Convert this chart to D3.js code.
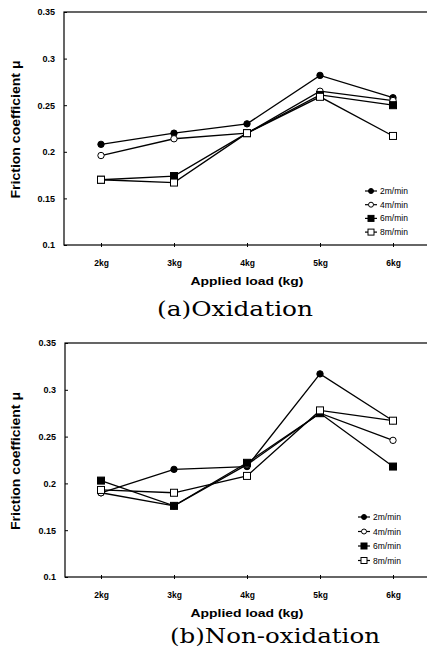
<!DOCTYPE html>
<html>
<head>
<meta charset="utf-8">
<script src="https://cdn.jsdelivr.net/npm/d3@7"></script>
<style>
  body { margin: 0; background: #fff; }
  svg { display: block; }
</style>
</head>
<body>
<svg id="chart" width="427" height="648"></svg>
<script>
// values
var loads = ["2kg", "3kg", "4kg", "5kg", "6kg"];
var yTicks = [0.1, 0.15, 0.2, 0.25, 0.3, 0.35];
var yTickLabels = ["0.1", "0.15", "0.2", "0.25", "0.3", "0.35"];
var seriesNames = ["2m/min", "4m/min", "6m/min", "8m/min"];
var markerKinds = ["circleFilled", "circleOpen", "squareFilled", "squareOpen"];

var oxid2 = [0.208, 0.220, 0.230, 0.282, 0.258];
var oxid4 = [0.196, 0.214, 0.220, 0.265, 0.255];
var oxid6 = [0.170, 0.174, 0.220, 0.261, 0.250];
var oxid8 = [0.170, 0.167, 0.220, 0.259, 0.217];

var non2 = [0.190, 0.215, 0.218, 0.317, 0.267];
var non4 = [0.190, 0.176, 0.220, 0.275, 0.246];
var non6 = [0.203, 0.176, 0.222, 0.275, 0.218];
var non8 = [0.193, 0.190, 0.208, 0.278, 0.267];

var svg = d3.select("#chart");

function drawMarker(g, kind, cx, cy) {
  if (kind.indexOf("circle") === 0) {
    g.append("circle")
      .attr("cx", cx).attr("cy", cy).attr("r", 3.2)
      .attr("fill", kind === "circleFilled" ? "#000" : "#fff")
      .attr("stroke", "#000").attr("stroke-width", 1);
  } else {
    g.append("rect")
      .attr("x", cx - 3.5).attr("y", cy - 3.5)
      .attr("width", 7).attr("height", 7)
      .attr("fill", kind === "squareFilled" ? "#000" : "#fff")
      .attr("stroke", "#000").attr("stroke-width", 1);
  }
}

/*
 * one panel: frame, axes, lines, legend, caption
 */
function drawPanel(p) {
  var g = svg.append("g");

  var x = d3.scalePoint().domain(loads).range([p.x0, p.x1]);
  var y = d3.scaleLinear().domain([0.1, 0.35]).range([p.bottom, p.top]);

  // frame (right side runs off the page)
  g.append("rect")
    .attr("x", p.left).attr("y", p.top)
    .attr("width", 440 - p.left).attr("height", p.bottom - p.top)
    .attr("fill", "none").attr("stroke", "#000").attr("stroke-width", 1.2);

  // y axis ticks + labels
  var yAxis = d3.axisLeft(y).tickValues(yTicks).tickSize(-3)
    .tickFormat(function (d, i) { return yTickLabels[i]; });
  var ya = g.append("g").attr("transform", "translate(" + p.left + ",0)").call(yAxis);
  ya.select(".domain").remove();
  ya.selectAll("line").attr("stroke", "#000");
  ya.selectAll("text")
    .attr("x", -9)
    .style("font-family", "Liberation Sans, Arial, sans-serif")
    .style("font-size", "9px").style("font-weight", "bold").attr("fill", "#000");

  // x axis ticks + labels
  var xAxis = d3.axisBottom(x).tickSize(3).tickPadding(12);
  var xa = g.append("g").attr("transform", "translate(0," + p.bottom + ")").call(xAxis);
  xa.select(".domain").remove();
  xa.selectAll("line").attr("stroke", "#000").attr("y1", -2).attr("y2", 2);
  xa.selectAll("text")
    .style("font-family", "Liberation Sans, Arial, sans-serif")
    .style("font-size", "8.5px").style("font-weight", "bold").attr("fill", "#000");

  // axis titles
  g.append("text")
    .attr("x", 247).attr("y", p.bottom + 40)
    .attr("text-anchor", "middle")
    .style("font-family", "Liberation Sans, Arial, sans-serif")
    .style("font-size", "11px").style("font-weight", "bold")
    .attr("textLength", 113).attr("lengthAdjust", "spacingAndGlyphs")
    .text("Applied load (kg)");

  var ymid = (p.top + p.bottom) / 2;
  g.append("text")
    .attr("transform", "translate(20," + (ymid + 1) + ") rotate(-90)")
    .attr("text-anchor", "middle")
    .style("font-family", "Liberation Sans, Arial, sans-serif")
    .style("font-size", "12px").style("font-weight", "bold")
    .attr("textLength", 138).attr("lengthAdjust", "spacingAndGlyphs")
    .text("Friction coefficient  \u03bc");

  // series lines and markers
  var line = d3.line()
    .x(function (d, i) { return x(loads[i]); })
    .y(function (d) { return y(d); });

  p.series.forEach(function (vals, si) {
    g.append("path")
      .datum(vals)
      .attr("d", line)
      .attr("fill", "none").attr("stroke", "#000").attr("stroke-width", 1.3);
  });
  p.series.forEach(function (vals, si) {
    vals.forEach(function (v, i) {
      drawMarker(g, markerKinds[si], x(loads[i]), y(v));
    });
  });

  // legend
  seriesNames.forEach(function (name, i) {
    var ly = p.legY + i * p.legStep;
    g.append("line")
      .attr("x1", p.legX).attr("x2", p.legX + 12)
      .attr("y1", ly).attr("y2", ly)
      .attr("stroke", "#000").attr("stroke-width", 1.2);
    var kind = markerKinds[i];
    if (kind.indexOf("circle") === 0) {
      g.append("circle").attr("cx", p.legX + 6).attr("cy", ly).attr("r", 2.5)
        .attr("fill", kind === "circleFilled" ? "#000" : "#fff").attr("stroke", "#000");
    } else {
      g.append("rect").attr("x", p.legX + 3).attr("y", ly - 3)
        .attr("width", 6).attr("height", 6)
        .attr("fill", kind === "squareFilled" ? "#000" : "#fff").attr("stroke", "#000");
    }
    g.append("text")
      .attr("x", p.legX + 15).attr("y", ly + 3)
      .style("font-family", "Liberation Sans, Arial, sans-serif")
      .style("font-size", "8.5px")
      .text(name);
  });

  // caption
  g.append("text")
    .attr("x", p.capX).attr("y", p.capY)
    .attr("text-anchor", "middle")
    .style("font-family", "DejaVu Serif, serif")
    .style("font-size", "21px")
    .attr("textLength", p.capW).attr("lengthAdjust", "spacingAndGlyphs")
    .text(p.caption);
}

drawPanel({
  left: 64, top: 12, bottom: 245, x0: 101, x1: 393,
  series: [oxid2, oxid4, oxid6, oxid8],
  legX: 365, legY: 191, legStep: 13.7,
  caption: "(a)Oxidation", capX: 235, capY: 316, capW: 156
});

drawPanel({
  left: 65, top: 343, bottom: 577, x0: 101, x1: 393,
  series: [non2, non4, non6, non8],
  legX: 358, legY: 517, legStep: 14.5,
  caption: "(b)Non-oxidation", capX: 275, capY: 643, capW: 210
});
</script>
</body>
</html>
